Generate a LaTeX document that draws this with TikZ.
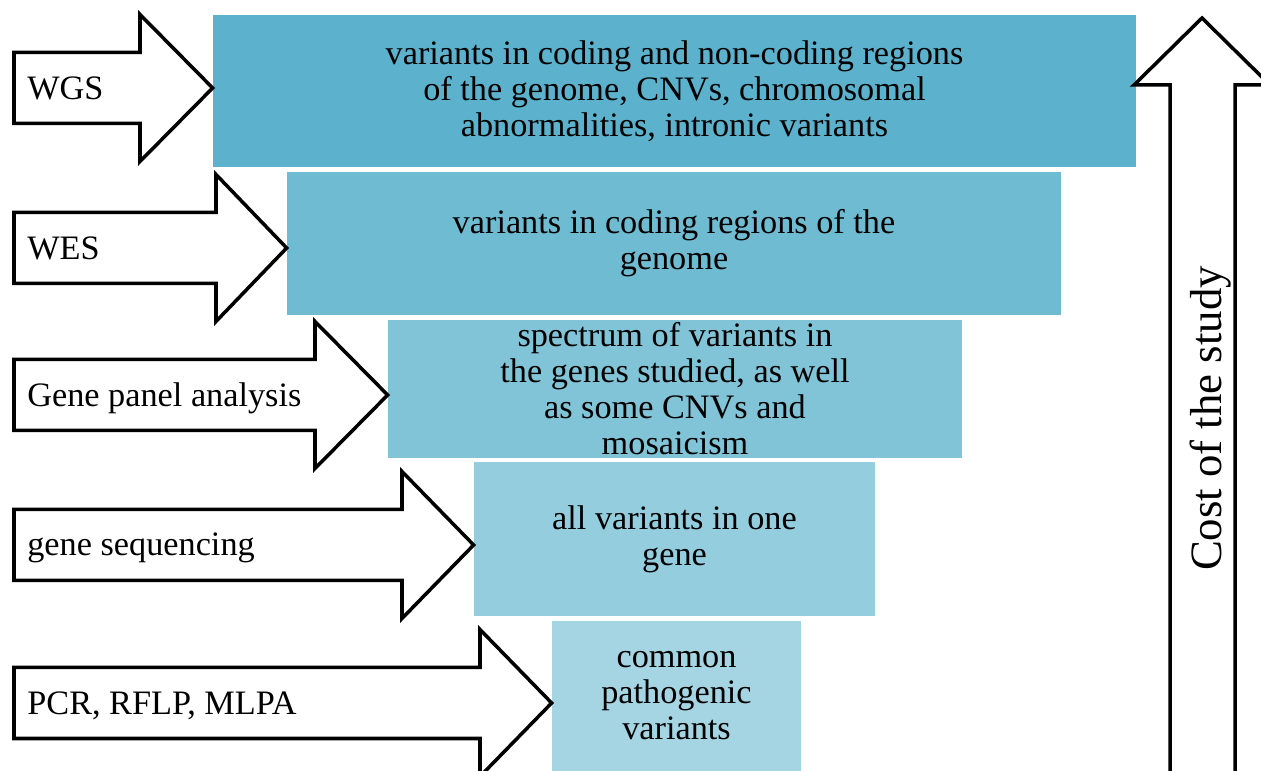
\documentclass[tikz,border=0pt]{standalone}
\usepackage{fontspec}
\setmainfont{Liberation Serif}
\definecolor{boxA}{HTML}{5CB2CC}
\definecolor{boxB}{HTML}{6FBCD2}
\definecolor{boxC}{HTML}{81C4D7}
\definecolor{boxD}{HTML}{93CDDE}
\definecolor{boxE}{HTML}{A5D5E3}
\begin{document}
\begin{tikzpicture}[
		txt/.style={font=\fontsize{19.5}{20.5}\selectfont},
		box/.style={txt, align=center, inner sep=0pt},
		blk/.style={draw=black, fill=white, line width=2pt, line join=miter},
		lbl/.style={txt, anchor=base west, inner sep=0pt}
	]
		\useasboundingbox (0,0) rectangle (25.22,15.42);
		\clip (0,0) rectangle (25.22,15.42);

		\node[box, fill=boxA, minimum width=18.46cm, minimum height=3.04cm] (wgsbox) at (13.49,13.60) {variants in coding and non-coding regions\\of the genome, CNVs, chromosomal\\abnormalities, intronic variants};
		\node[box, fill=boxB, minimum width=15.48cm, minimum height=2.86cm] (wesbox) at (13.48,10.55) {variants in coding regions of the\\genome};
		\node[box, fill=boxC, minimum width=11.48cm, minimum height=2.76cm] (panelbox) at (13.50,7.64) {spectrum of variants in\\the genes studied, as well\\as some CNVs and\\mosaicism};
		\node[box, fill=boxD, minimum width=8.02cm, minimum height=3.08cm] (seqbox) at (13.49,4.64) {all variants in one\\gene};
		\node[box, fill=boxE, minimum width=4.98cm, minimum height=3.00cm] (pcrbox) at (13.53,1.50) {common\\pathogenic\\variants};

		\draw[blk] (0.28,14.37) -- (2.80,14.37) -- (2.80,15.13) -- (wgsbox.west |- 0,13.66) -- (2.80,12.19) -- (2.80,12.95) -- (0.28,12.95) -- cycle;
		\draw[blk] (0.28,11.17) -- (4.32,11.17) -- (4.32,11.93) -- (wesbox.west |- 0,10.46) -- (4.32,8.99) -- (4.32,9.75) -- (0.28,9.75) -- cycle;
		\draw[blk] (0.28,8.23) -- (6.30,8.23) -- (6.30,8.99) -- (panelbox.west |- 0,7.52) -- (6.30,6.05) -- (6.30,6.81) -- (0.28,6.81) -- cycle;
		\draw[blk] (0.28,5.23) -- (8.04,5.23) -- (8.04,5.99) -- (seqbox.west |- 0,4.52) -- (8.04,3.05) -- (8.04,3.81) -- (0.28,3.81) -- cycle;
		\draw[blk] (0.28,2.07) -- (9.60,2.07) -- (9.60,2.83) -- (pcrbox.west |- 0,1.36) -- (9.60,-0.11) -- (9.60,0.65) -- (0.28,0.65) -- cycle;

		\node[lbl] (wgs) at (0.54,13.43) {WGS};
		\node[lbl] (wes) at (0.54,10.23) {WES};
		\node[lbl] (panel) at (0.54,7.29) {Gene panel analysis};
		\node[lbl] (seq) at (0.54,4.30) {gene sequencing};
		\node[lbl] (pcr) at (0.54,1.13) {PCR, RFLP, MLPA};

		\draw[blk] (23.40,-0.50) -- (23.40,13.72) -- (22.68,13.72) -- (24.04,15.06) -- (25.40,13.72) -- (24.70,13.72) -- (24.70,-0.50) -- cycle;
		\node[rotate=90, anchor=base, inner sep=0pt, font=\fontsize{25.5}{27}\selectfont] (cost) at (24.42,7.05) {Cost of the study};
	\end{tikzpicture}
\end{document}
